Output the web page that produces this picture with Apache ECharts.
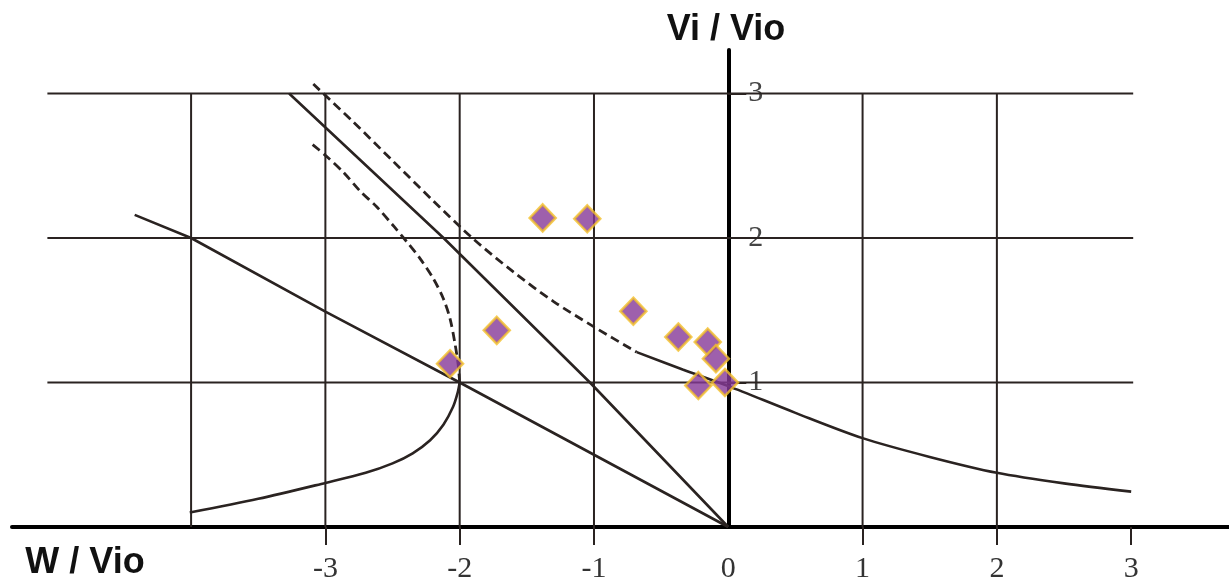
<!DOCTYPE html>
<html>
<head>
<meta charset="utf-8">
<title>Vi / Vio vs W / Vio</title>
<script src="https://cdn.jsdelivr.net/npm/echarts@6/dist/echarts.min.js"></script>
<style>
  html, body { margin: 0; padding: 0; background: #fff; }
  #chart { width: 1229px; height: 578px; }
</style>
</head>
<body>
<div id="chart"></div>
<script>
// Axis ticks and labels
const W_LABELS = [-3, -2, -1, 0, 1, 2, 3];
const W_TICKS = [-3, -2, -1, 1, 2, 3];
const VI_TICKS = [1, 2, 3];

// Reference grid
const GRID_W = [-4, -3, -2, -1, 1, 2];
const GRID_VI = [1, 2, 3];
const GRID_W_RANGE = [-5.07, 3.015];
const GRID_VI_RANGE = [0, 3];

// Momentum-theory curves  [W/Vio, Vi/Vio]
const halfSlopeLine = [[-4.42, 2.16], [-4, 2], [-3, 1.49], [-2, 1], [-1, 0.5], [0, 0]];
const idealAutorotation = [[-3.27, 3.0], [-2.12, 2], [-1.03, 1], [0, 0]];
const windmillBranch = [
  [-4.01, 0.10], [-3.5, 0.195], [-3.0, 0.305], [-2.7, 0.375], [-2.5, 0.44],
  [-2.35, 0.51], [-2.22, 0.60], [-2.12, 0.71], [-2.05, 0.83], [-2.015, 0.93], [-2.0, 1.0]
];
const vortexLower = [
  [-2.0, 1.0], [-2.012, 1.13], [-2.035, 1.269], [-2.072, 1.442], [-2.122, 1.581],
  [-2.197, 1.72], [-2.296, 1.859], [-2.395, 1.975], [-2.494, 2.085], [-2.618, 2.216],
  [-2.742, 2.325], [-2.867, 2.456], [-2.99, 2.564], [-3.115, 2.662]
];
const vortexUpper = [
  [-3.09, 3.065], [-2.8, 2.81], [-2.5, 2.535], [-2.2, 2.26], [-1.9, 1.995],
  [-1.6, 1.765], [-1.3, 1.56], [-1.0, 1.385], [-0.682, 1.21]
];
const climbBranch = [
  [-0.682, 1.21], [-0.34, 1.09], [0, 0.975], [0.5, 0.79], [1.0, 0.615],
  [1.5, 0.485], [2.0, 0.375], [2.5, 0.302], [3.0, 0.245]
];

// Measured points
const measuredW  = [-1.382, -1.05, -1.724, -0.707, -0.372, -0.153, -0.092, -0.223, -0.025, -2.072];
const measuredVi = [2.139, 2.133, 1.361, 1.493, 1.315, 1.28, 1.165, 0.979, 1.0, 1.13];

const INK = '#2a2321';
const X_MIN = -5.3335, X_MAX = 3.7284;
const GRID_LEFT = 12, GRID_RIGHT = 0;
const PLOT_W = 1229 - GRID_LEFT - GRID_RIGHT;

function gridSeries() {
  const out = [];
  GRID_W.forEach(w => out.push({
    type: 'line', silent: true, symbol: 'none', z: 1, animation: false,
    data: [[w, GRID_VI_RANGE[0]], [w, GRID_VI_RANGE[1]]],
    lineStyle: { color: INK, width: 2 }
  }));
  GRID_VI.forEach(v => out.push({
    type: 'line', silent: true, symbol: 'none', z: 1, animation: false,
    data: [[GRID_W_RANGE[0], v], [GRID_W_RANGE[1], v]],
    lineStyle: { color: INK, width: 2 }
  }));
  return out;
}

function curve(data, dashed, smooth) {
  return {
    type: 'line', silent: true, symbol: 'none', z: 3, animation: false,
    smooth: smooth ? 0.3 : false,
    data: data,
    lineStyle: {
      color: INK, width: dashed ? 2.8 : 2.6,
      type: dashed ? [9, 5] : 'solid', cap: 'butt'
    }
  };
}

// Vertical axis drawn through W = 0: shift it in from the left edge of the grid
const yAxisOffset = -(0 - X_MIN) / (X_MAX - X_MIN) * PLOT_W;

const chart = echarts.init(document.getElementById('chart'), null, { renderer: 'canvas' });

chart.setOption({
  animation: false,
  backgroundColor: '#ffffff',
  grid: {
    left: GRID_LEFT, right: GRID_RIGHT, top: 50, bottom: 51,
    containLabel: false, outerBoundsMode: 'none'
  },
  xAxis: {
    type: 'value', min: X_MIN, max: X_MAX,
    axisLine: { onZero: true, lineStyle: { color: '#000', width: 4 } },
    axisTick: { show: true, customValues: W_TICKS, length: 18, lineStyle: { color: INK, width: 2 } },
    axisLabel: {
      customValues: W_LABELS, margin: 27, color: '#333',
      fontFamily: 'Liberation Serif', fontSize: 30,
      formatter: v => String(v)
    },
    splitLine: { show: false }
  },
  yAxis: {
    type: 'value', min: 0, max: 3.301,
    offset: yAxisOffset,
    axisLine: { show: true, onZero: false, lineStyle: { color: '#000', width: 4 } },
    axisTick: { show: true, inside: true, customValues: VI_TICKS, length: 18, lineStyle: { color: INK, width: 2 } },
    axisLabel: {
      inside: true, customValues: VI_TICKS, margin: 20, color: '#444',
      fontFamily: 'Liberation Serif', fontSize: 30,
      formatter: v => String(v)
    },
    splitLine: { show: false }
  },
  graphic: [
    {
      type: 'text', x: 726, y: 30,
      style: {
        text: 'Vi / Vio', fill: '#111', align: 'center', verticalAlign: 'middle',
        font: 'bold 36px "Liberation Sans", Arial, sans-serif'
      }
    },
    {
      type: 'text', x: 85, y: 563,
      style: {
        text: 'W / Vio', fill: '#111', align: 'center', verticalAlign: 'middle',
        font: 'bold 36px "Liberation Sans", Arial, sans-serif'
      }
    }
  ],
  series: [
    ...gridSeries(),
    curve(halfSlopeLine, false, false),
    curve(idealAutorotation, false, false),
    curve(windmillBranch, false, true),
    curve(vortexLower, true, true),
    curve(vortexUpper, true, true),
    curve(climbBranch, false, true),
    {
      type: 'scatter', z: 5, animation: false,
      symbol: 'diamond', symbolSize: [26, 27],
      data: measuredW.map((w, i) => [w, measuredVi[i]]),
      itemStyle: { color: '#863897', borderColor: '#f4c02a', borderWidth: 2.5 }
    }
  ]
});
</script>
</body>
</html>
